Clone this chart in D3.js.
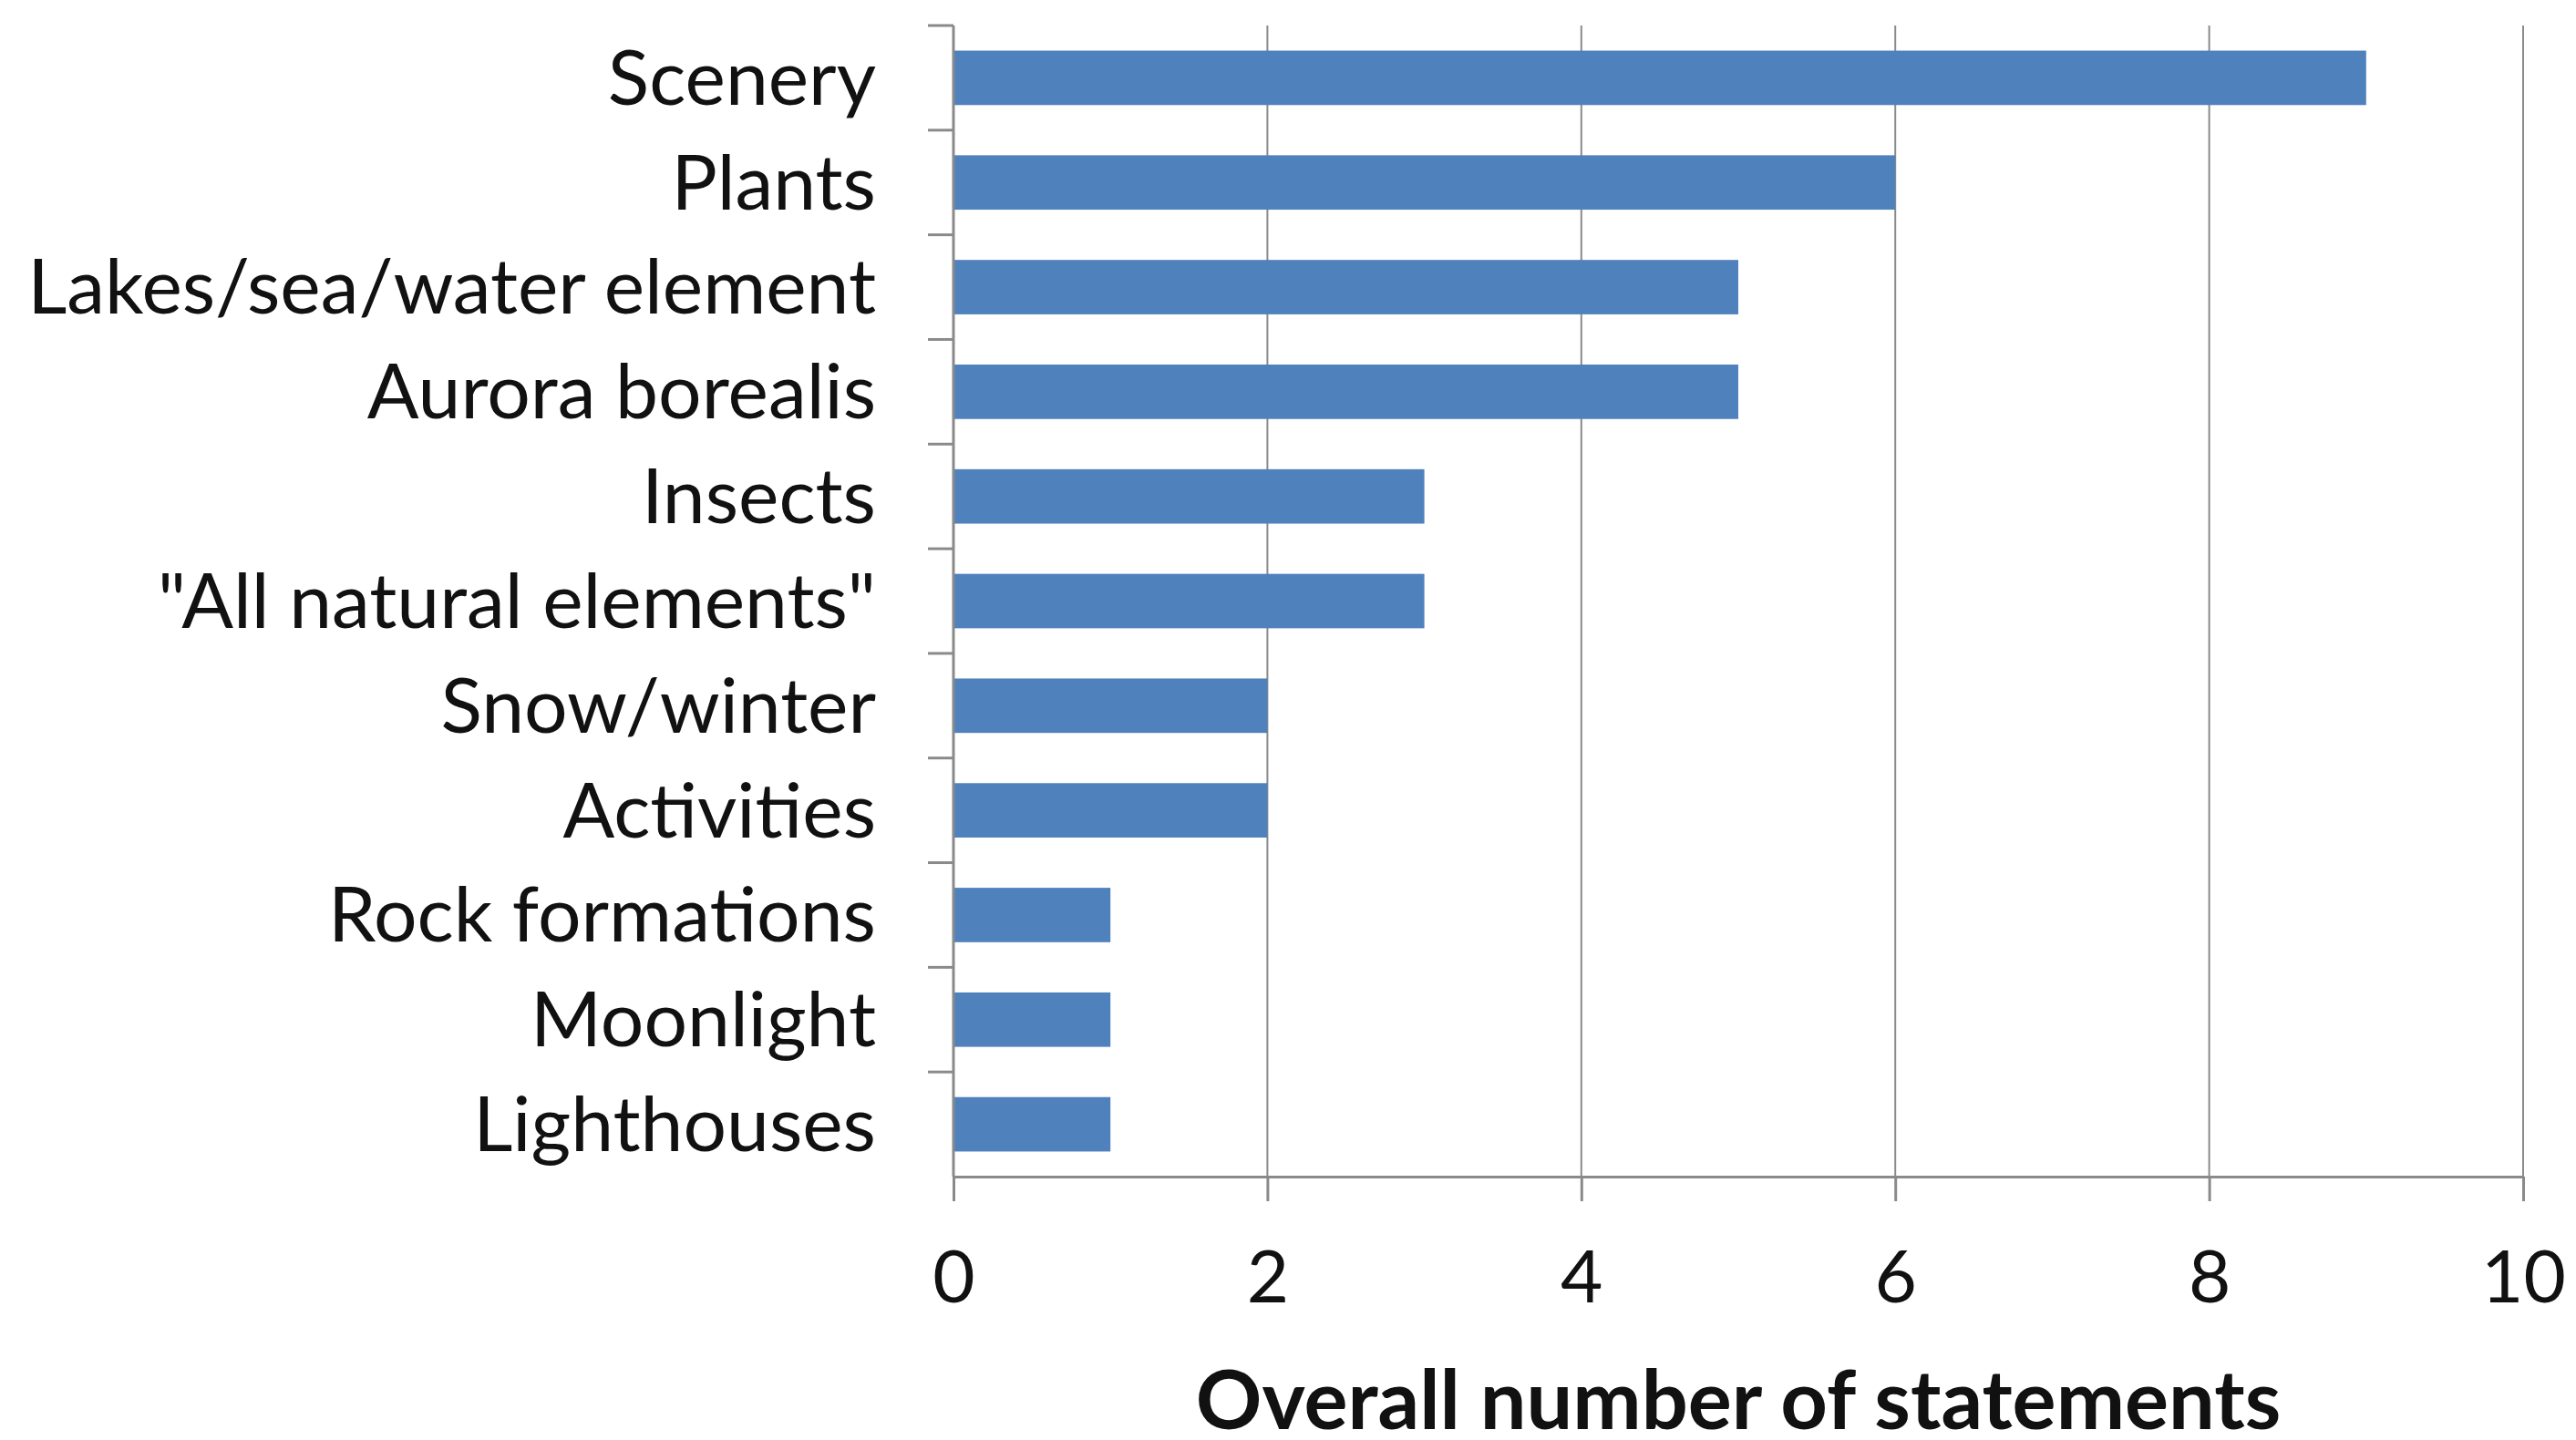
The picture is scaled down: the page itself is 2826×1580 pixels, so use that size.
<!DOCTYPE html>
<html>
<head>
<meta charset="utf-8">
<script src="https://cdn.jsdelivr.net/npm/d3@7"></script>
<style>
  html, body { margin: 0; padding: 0; background: #fff; }
  svg { display: block; }
</style>
</head>
<body>
<svg id="chart" width="2826" height="1580"></svg>
<script>
// Themes mentioned in statements, top to bottom
const categories = [
  "Scenery", "Plants", "Lakes/sea/water element", "Aurora borealis", "Insects",
  "\"All natural elements\"", "Snow/winter", "Activities", "Rock formations",
  "Moonlight", "Lighthouses"
];
const counts = [9, 6, 5, 5, 3, 3, 2, 2, 1, 1, 1];
const xTicks = [0, 2, 4, 6, 8, 10];
const xTitle = "Overall number of statements";

const svg = d3.select("#chart");
const font = "Lato, 'Open Sans', sans-serif";
const axisColor = "#8a8a8a";
const barColor = "#4f81bd";

const plotLeft = 1046, plotRight = 2768, plotTop = 28, plotBottom = 1291;

const x = d3.scaleLinear().domain([0, 10]).range([plotLeft, plotRight]);
const y = d3.scaleBand().domain(categories).range([plotTop, plotBottom])
  .paddingInner(0.48).paddingOuter(0.24);
const step = y.step();
const bandTop = d => y(d) - y.paddingInner() * step / 2;

// vertical gridlines
svg.append("g").selectAll("line").data(xTicks.filter(t => t > 0)).join("line")
  .attr("x1", d => x(d)).attr("x2", d => x(d))
  .attr("y1", plotTop).attr("y2", plotBottom)
  .attr("stroke", axisColor).attr("stroke-width", 2);

// bars
svg.append("g").selectAll("rect").data(categories).join("rect")
  .attr("x", x(0))
  .attr("y", d => y(d))
  .attr("width", (d, i) => x(counts[i]) - x(0))
  .attr("height", y.bandwidth())
  .attr("fill", barColor);

// x axis
const xAxis = svg.append("g").attr("transform", `translate(0,${plotBottom})`)
  .call(d3.axisBottom(x).tickValues(xTicks).tickSize(27).tickPadding(54).tickSizeOuter(0));
xAxis.select(".domain").attr("stroke", axisColor).attr("stroke-width", 3);
xAxis.selectAll(".tick line").attr("stroke", axisColor).attr("stroke-width", 3);
xAxis.selectAll(".tick text")
  .attr("font-family", font).attr("font-size", 80).attr("fill", "#111")
  .attr("dy", "0.71em");

// y axis line with ticks between categories
svg.append("line")
  .attr("x1", plotLeft).attr("x2", plotLeft).attr("y1", plotTop).attr("y2", plotBottom)
  .attr("stroke", axisColor).attr("stroke-width", 3);
const boundaries = categories.map(bandTop);
svg.append("g").selectAll("line").data(boundaries).join("line")
  .attr("x1", plotLeft - 28).attr("x2", plotLeft)
  .attr("y1", d => d).attr("y2", d => d)
  .attr("stroke", axisColor).attr("stroke-width", 3);

// category labels
svg.append("g").selectAll("text").data(categories).join("text")
  .attr("x", 961)
  .attr("y", d => y(d) + y.bandwidth() / 2)
  .attr("dy", "0.35em")
  .attr("text-anchor", "end")
  .attr("font-family", font).attr("font-size", 84).attr("fill", "#111")
  .text(d => d);

// axis title
svg.append("text")
  .attr("x", (plotLeft + plotRight) / 2).attr("y", 1568)
  .attr("text-anchor", "middle")
  .attr("font-family", font).attr("font-weight", "bold").attr("font-size", 90)
  .attr("fill", "#111")
  .text(xTitle);
</script>
</body>
</html>
